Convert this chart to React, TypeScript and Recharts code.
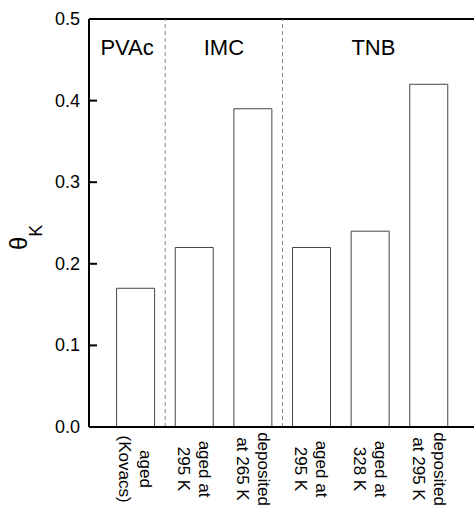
import { Bar, BarChart, ReferenceDot, ReferenceLine, XAxis, YAxis } from "recharts";

const positions = [0, 1, 2, 3, 4, 5];
const thetaK = [0.17, 0.22, 0.39, 0.22, 0.24, 0.42];
const labelTop = ["aged", "aged at", "deposited", "aged at", "aged at", "deposited"];
const labelBottom = ["(Kovacs)", "295 K", "at 265 K", "295 K", "328 K", "at 295 K"];
const groupNames = ["PVAc", "IMC", "TNB"];
const groupCenters = [-0.15, 1.5, 4.05];
const separators = [0.5, 2.5];
const yTicks = [0, 0.1, 0.2, 0.3, 0.4, 0.5];

const data = positions.map((pos, i) => ({ pos, value: thetaK[i] }));

const FONT = "'Liberation Sans', Arial, Helvetica, sans-serif";

const LeftTick = (props: any) => {
    const { x, y, payload } = props;
    return (
        <g>
            <line x1={x} x2={x + 8} y1={y} y2={y} stroke="#000" strokeWidth={2} />
            <text
                x={x - 9}
                y={y}
                textAnchor="end"
                dominantBaseline="central"
                fontSize={18}
                fontFamily={FONT}
                fill="#000"
            >
                {Number(payload.value).toFixed(1)}
            </text>
        </g>
    );
};

const RightTick = (props: any) => {
    const { x, y } = props;
    return <line x1={x} x2={x - 8} y1={y} y2={y} stroke="#000" strokeWidth={2} />;
};

const BottomTick = (props: any) => {
    const { x, y, payload } = props;
    const i = positions.indexOf(payload.value);
    if (i < 0) return null;
    return (
        <text
            transform={`translate(${x}, ${y + 42}) rotate(90)`}
            textAnchor="middle"
            fontSize={17}
            fontFamily={FONT}
            fill="#000"
        >
            <tspan x={0} y={-4.5}>
                {labelTop[i]}
            </tspan>
            <tspan x={0} dy={21}>
                {labelBottom[i]}
            </tspan>
        </text>
    );
};

const AxisTitle = (props: any) => {
    const { viewBox } = props;
    const bx = viewBox.x + 27;
    const by = viewBox.y + viewBox.height / 2 + 27;
    return (
        <text transform={`translate(${bx}, ${by}) rotate(-90)`} fontFamily={FONT} fill="#000">
            <tspan fontSize={24}>θ</tspan>
            <tspan fontSize={18} dy={15}>
                K
            </tspan>
        </text>
    );
};

const App = () => {
    return (
        <div
            style={{
                position: "fixed",
                top: 0,
                left: 0,
                width: 474,
                height: 506,
                overflow: "hidden",
                background: "#fff",
            }}
        >
            <BarChart
                width={480}
                height={506}
                data={data}
                margin={{ top: 19, right: 0, bottom: 0, left: 0 }}
            >
                <XAxis
                    dataKey="pos"
                    type="number"
                    domain={[-0.8, 5.8]}
                    ticks={positions}
                    allowDataOverflow
                    height={79}
                    tickSize={0}
                    tickMargin={0}
                    tickLine={false}
                    axisLine={{ stroke: "#000", strokeWidth: 2 }}
                    tick={<BottomTick />}
                    interval={0}
                />
                <YAxis
                    yAxisId="left"
                    domain={[0, 0.5]}
                    ticks={yTicks}
                    width={89}
                    tickSize={0}
                    tickMargin={0}
                    tickLine={false}
                    axisLine={{ stroke: "#000", strokeWidth: 2 }}
                    tick={<LeftTick />}
                    interval={0}
                    label={{ content: <AxisTitle /> }}
                />
                <YAxis
                    yAxisId="right"
                    orientation="right"
                    domain={[0, 0.5]}
                    ticks={yTicks}
                    width={4}
                    tickSize={0}
                    tickMargin={0}
                    tickLine={false}
                    axisLine={{ stroke: "#000", strokeWidth: 2 }}
                    tick={<RightTick />}
                    interval={0}
                />
                <ReferenceLine yAxisId="left" y={0.5} stroke="#000" strokeWidth={2} />
                {separators.map((s) => (
                    <ReferenceLine
                        key={s}
                        yAxisId="left"
                        x={s}
                        stroke="#888"
                        strokeWidth={1}
                        strokeDasharray="4 3"
                    />
                ))}
                <Bar
                    yAxisId="left"
                    dataKey="value"
                    fill="#fff"
                    stroke="#444"
                    strokeWidth={1}
                    barSize={38}
                    isAnimationActive={false}
                />
                {groupNames.map((g, i) => (
                    <ReferenceDot
                        key={g}
                        yAxisId="left"
                        x={groupCenters[i]}
                        y={0.466}
                        r={0}
                        stroke="none"
                        label={{
                            value: g,
                            position: "center",
                            fontSize: 22,
                            fontFamily: FONT,
                            fill: "#000",
                        }}
                    />
                ))}
            </BarChart>
        </div>
    );
};

export default App;
